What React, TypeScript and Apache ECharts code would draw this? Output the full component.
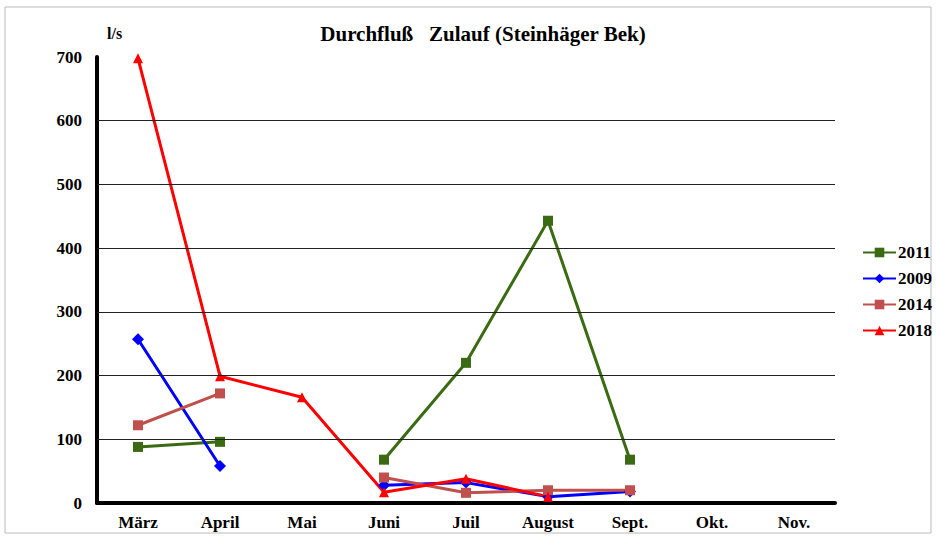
import React, { useEffect, useRef } from "react";
import * as echarts from "echarts";

const categories = ["März", "April", "Mai", "Juni", "Juil", "August", "Sept.", "Okt.", "Nov."];
const s2011 = [88, 96, null, 68, 220, 443, 68, null, null];
const s2009 = [257, 58, null, 28, 32, 10, 18, null, null];
const s2014 = [122, 172, null, 40, 16, 20, 20, null, null];
const s2018 = [698, 199, 166, 17, 38, 10, null, null, null];
const gridTicks = [100, 200, 300, 400, 500, 600];

const FONT = "'Liberation Serif', 'DejaVu Serif', serif";

export default function App() {
  const ref = useRef<HTMLDivElement>(null);
  useEffect(() => {
    if (!ref.current) return;
    const chart = echarts.init(ref.current, null, { renderer: "svg" });
    const mk = (name: string, data: any[], color: string, symbol: string, size: number) => ({
      name,
      type: "line",
      data,
      connectNulls: false,
      symbol,
      symbolSize: size,
      lineStyle: { color, width: 3 },
      itemStyle: { color },
      z: 3,
    });
    chart.setOption({
      animation: false,
      backgroundColor: "#fff",
      textStyle: { fontFamily: FONT },
      title: {
        text: "Durchfluß   Zulauf (Steinhäger Bek)",
        left: 478,
        textAlign: "center",
        top: 18,
        textStyle: { fontFamily: FONT, fontWeight: "bold", fontSize: 21, color: "#000" },
      },
      legend: {
        orient: "vertical",
        left: 857,
        top: 239,
        itemGap: 9,
        itemWidth: 33,
        itemHeight: 12,
        textStyle: { fontFamily: FONT, fontWeight: "bold", fontSize: 17, color: "#000", padding: [0, 0, 0, -3] },
        data: ["2011", "2009", "2014", "2018"],
      },
      grid: { left: 97, right: 101, top: 57, bottom: 35, containLabel: false },
      xAxis: {
        type: "category",
        data: categories,
        boundaryGap: true,
        axisLine: { lineStyle: { color: "#000", width: 4 } },
        axisTick: { show: false },
        axisLabel: { fontFamily: FONT, fontWeight: "bold", fontSize: 17, color: "#000", margin: 11 },
      },
      yAxis: {
        type: "value",
        min: 0,
        max: 700,
        interval: 100,
        name: "l/s",
        nameLocation: "end",
        nameGap: 16,
        nameTextStyle: { fontFamily: FONT, fontWeight: "bold", fontSize: 16, color: "#000", align: "left", padding: [0, 0, 0, 10] },
        axisLine: { show: true, lineStyle: { color: "#000", width: 4 } },
        axisTick: { show: false },
        splitLine: { show: false },
        axisLabel: { fontFamily: FONT, fontWeight: "bold", fontSize: 17, color: "#000", margin: 15 },
      },
      series: [
        {
          name: "grid",
          type: "line",
          data: [],
          silent: true,
          markLine: {
            silent: true,
            symbol: "none",
            label: { show: false },
            lineStyle: { color: "#222", width: 1, type: "solid" },
            data: gridTicks.map((v) => ({ yAxis: v })),
          },
          z: 1,
        },
        mk("2011", s2011, "#3a6b12", "rect", 10),
        mk("2009", s2009, "#0000ff", "diamond", 12),
        mk("2014", s2014, "#c0504d", "rect", 10),
        mk("2018", s2018, "#ff0000", "triangle", 10),
      ],
      graphic: [
        {
          type: "rect",
          shape: { x: 5, y: 7, width: 926, height: 526 },
          style: { fill: "none", stroke: "#bbb", lineWidth: 1 },
          silent: true,
        },
      ],
    });
    return () => chart.dispose();
  }, []);
  return (
    <div
      ref={ref}
      style={{ position: "absolute", left: 0, top: 0, width: 936, height: 538 }}
    />
  );
}
